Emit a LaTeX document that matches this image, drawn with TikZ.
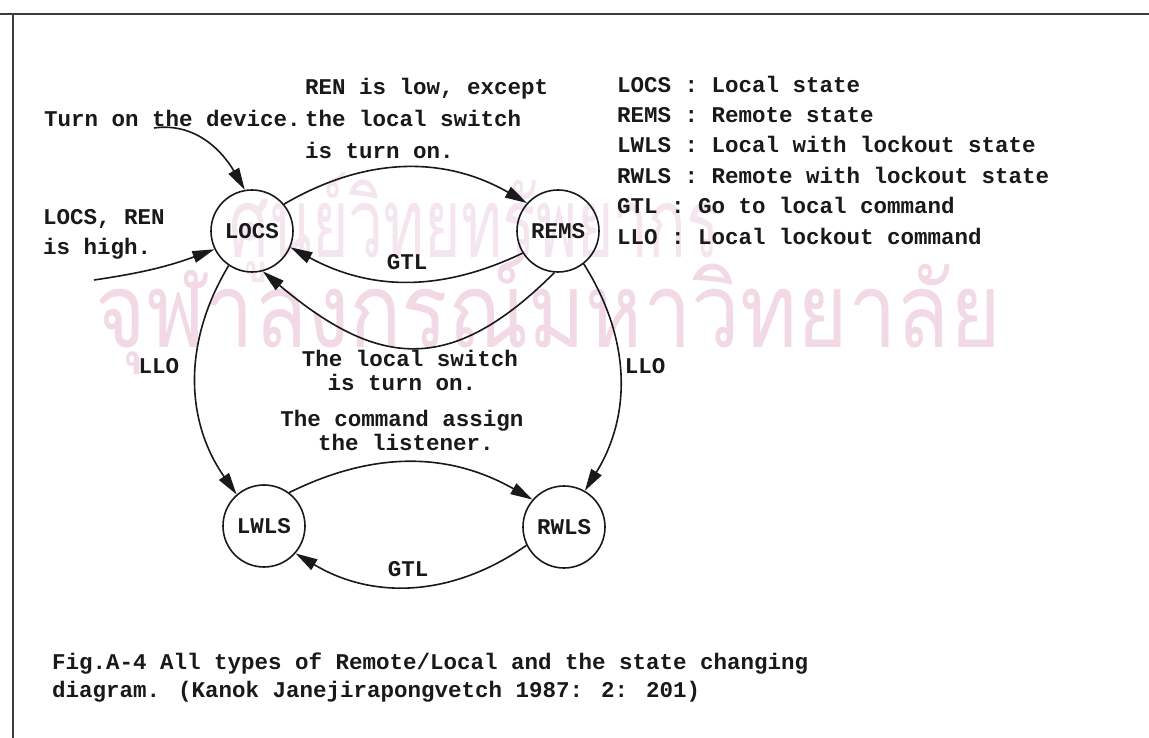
\documentclass[tikz,border=0pt]{standalone}
\usepackage{fontspec}
\usepackage{graphicx}
\setmainfont{Liberation Mono}
\newfontfamily\thaifont[Script=Thai]{Loma}
\usetikzlibrary{arrows.meta}
\definecolor{ink}{RGB}{25,25,25}
\definecolor{wmpinkA}{RGB}{244,229,238}
\definecolor{wmpinkB}{RGB}{242,217,230}
\definecolor{framegray}{RGB}{60,60,60}
\begin{document}
\begin{tikzpicture}[x=1pt,y=1pt,
  state/.style={circle, draw=ink, line width=1.6pt, minimum size=82pt, inner sep=0pt,
    font=\bfseries\fontsize{22.5}{24}\selectfont, text=ink},
  lbl/.style={inner sep=0pt, font=\bfseries\fontsize{22.5}{24}\selectfont, text=ink},
  arr/.style={draw=ink, line width=1.6pt, -{Triangle[length=22pt,width=12pt]}},
  wm/.style={inner sep=0pt}]
\useasboundingbox (0,0) rectangle (1149,738);
\fill[white] (0,0) rectangle (1149,738);
% watermark
\node[wm, text=wmpinkA] (wm1) at (475,510) {\scalebox{1}[1.55]{\resizebox{490pt}{!}{\thaifont ศูนย์วิทยทรัพยากร}}};
\node[wm, text=wmpinkB] (wm2) at (548,423) {\scalebox{1}[1.2]{\resizebox{905pt}{!}{\thaifont จุฬาลงกรณ์มหาวิทยาลัย}}};
% frame
\draw[framegray, line width=2.5pt] (0,724) -- (1149,724);
\draw[framegray, line width=2pt] (13,724) -- (13,0);
% states
\node[state] (LOCS) at (252,507) {LOCS};
\node[state] (REMS) at (558,507) {REMS};
\node[state] (LWLS) at (264,212) {LWLS};
\node[state] (RWLS) at (564,211) {RWLS};
% connectors
\coordinate (tstart) at (154,610);
\draw[arr] (tstart) to[out=8,in=120] (LOCS.100);
\coordinate (hstart) at (94,458);
\draw[arr] (hstart) to[bend right=6] (LOCS.206);
\draw[arr] (LOCS.40) to[bend left=30] (REMS.138);
\draw[arr] (REMS.212) to[bend left=27] (LOCS.337);
\draw[arr] (REMS.265) to[out=225,in=-40,looseness=1.3] (LOCS.285);
\draw[arr] (LOCS.236) to[bend right=33] (LWLS.131);
\draw[arr] (REMS.308) to[bend left=32] (RWLS.60);
\draw[arr] (LWLS.53) to[bend left=28] (RWLS.139);
\draw[arr] (RWLS.206) to[bend left=33] (LWLS.319);
% labels
\node[lbl, anchor=base west] (t1) at (44,611) {Turn on the device.};
\node[lbl, anchor=base west] (r1) at (305,643) {REN is low, except};
\node[lbl, anchor=base west] (r2) at (305,611) {the local switch};
\node[lbl, anchor=base west] (r3) at (305,579) {is turn on.};
\node[lbl, anchor=base west] (h1) at (43,513) {LOCS, REN};
\node[lbl, anchor=base west] (h2) at (43,483) {is high.};
\node[lbl, anchor=base] (g1) at (407,468) {GTL};
\node[lbl, anchor=base west] (k1) at (617,645) {LOCS : Local state};
\node[lbl, anchor=base west] (k2) at (617,615) {REMS : Remote state};
\node[lbl, anchor=base west] (k3) at (617,585) {LWLS : Local with lockout state};
\node[lbl, anchor=base west] (k4) at (617,554) {RWLS : Remote with lockout state};
\node[lbl, anchor=base west] (k5) at (617,524) {GTL : Go to local command};
\node[lbl, anchor=base west] (k6) at (617,493) {LLO : Local lockout command};
\node[lbl, anchor=base] (llo1) at (159,364) {LLO};
\node[lbl, anchor=base] (llo2) at (645,364) {LLO};
\node[lbl, anchor=base] (s1) at (410,371) {The local switch};
\node[lbl, anchor=base] (s2) at (402,347) {is turn on.};
\node[lbl, anchor=base] (c1) at (402,311) {The command assign};
\node[lbl, anchor=base] (c2) at (406,287) {the listener.};
\node[lbl, anchor=base] (g2) at (408,161) {GTL};
\node[lbl, anchor=base west] (f1) at (52,68) {Fig.A-4 All types of Remote/Local and the state changing};
\node[lbl, anchor=base west] (f2) at (52,40) {diagram. (Kanok Janejirapongvetch 1987: 2: 201)};
\end{tikzpicture}
\end{document}
